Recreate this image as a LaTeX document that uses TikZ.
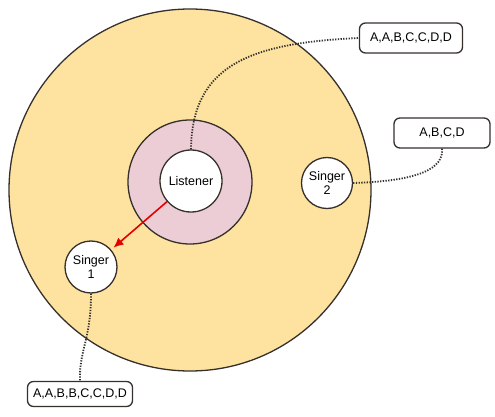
\documentclass[tikz,border=0pt]{standalone}
\usepackage{fontspec}
\setmainfont{Liberation Sans}
\usepackage{tikz}
\usetikzlibrary{arrows.meta}

\definecolor{hall}{HTML}{FDE2A0}
\definecolor{zone}{HTML}{EDCDD5}
\definecolor{rim}{HTML}{35302C}

\tikzset{
  person/.style={circle, draw=rim, line width=1.3pt, fill=white, align=center, inner sep=0pt, font=\fontsize{12.5}{13.5}\selectfont},
  seqbox/.style={draw=rim, line width=1.3pt, rounded corners=6pt, fill=white, inner sep=0pt, font=\fontsize{12.5}{13.5}\selectfont},
  link/.style={rim, line width=1.8pt, dash pattern=on 1.3pt off 1.4pt}
}

\begin{document}
\begin{tikzpicture}[x=1pt, y=-1pt]
      \useasboundingbox (0, 0) rectangle (495, 417);

      \draw [rim, fill=hall, line width=1.3pt] (190, 190) circle (181);
      \draw [rim, fill=zone, line width=1.3pt] (190, 182) circle (62);

      \node [person, minimum size=62pt] (listener) at (191, 181) {Listener};
      \node [person, minimum size=51pt] (singer2) at (327, 183) {Singer\\2};
      \node [person, minimum size=52pt] (singer1) at (91, 267) {Singer\\1};

      \node [seqbox, minimum width=103pt, minimum height=30pt] (seq1) at (411, 38) {A,A,B,C,C,D,D};
      \node [seqbox, minimum width=96pt, minimum height=30pt] (seq2) at (442, 133) {A,B,C,D};
      \node [seqbox, minimum width=105pt, minimum height=25pt] (seq3) at (80, 394) {A,A,B,B,C,C,D,D};

      \draw [link] (listener.north) .. controls (192, 65) and (250, 43) .. (seq1.west);
      \draw [link] (singer2.east) .. controls (420, 181) and (444, 168) .. (seq2.south);
      \draw [link] (singer1.south) .. controls (91, 340) and (79, 350) .. (seq3.north);

      \draw [red!90!black, line width=1.6pt, -{Latex[length=10pt, width=9pt]}, shorten >=3pt] (listener) -- (singer1);
    \end{tikzpicture}
\end{document}
